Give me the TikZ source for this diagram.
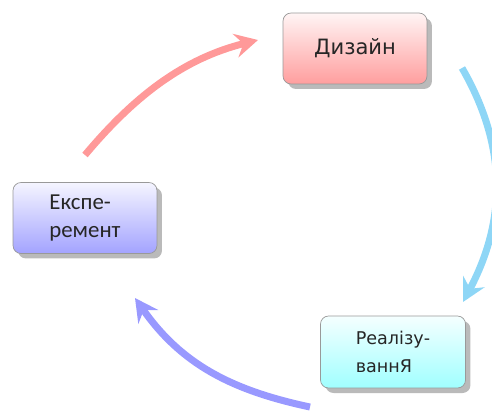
\documentclass[tikz,border=0pt]{standalone}
\usepackage{fontspec}
\newfontfamily\verdfont{DejaVu Sans}
\newfontfamily\carlfont{Carlito}
\usetikzlibrary{calc}
\usetikzlibrary{arrows.meta}
\usetikzlibrary{shadows}
\definecolor{pinkarr}{HTML}{FF9999}
\definecolor{bluearr}{HTML}{8ED6F6}
\definecolor{violarr}{HTML}{9999FF}

\begin{document}
\begin{tikzpicture} [x=0.02cm, y=0.02cm,
  box/.style={draw=black!40, rounded corners=0.16cm, minimum width=2.88cm, minimum height=1.42cm, text=black!85,
    drop shadow={shadow xshift=0.1cm, shadow yshift=-0.1cm, fill=black!45, opacity=0.6}},
  flow/.style={line width=0.14cm, -{Stealth[length=4.6mm, width=4.8mm, inset=1.6mm]}}]
\useasboundingbox (0,0) rectangle (492,410);

\node[box, top color=red!4, bottom color={rgb,255:red,255;green,158;blue,158}, font={\verdfont\fontsize{12}{14}\selectfont}] (dizain) at (355,361.5) {Дизайн};
\node[box, top color=blue!4, bottom color={rgb,255:red,163;green,163;blue,255}, align=left, font={\carlfont\fontsize{13}{15.5}\selectfont}] (eksp) at (85,192) {Експе-\\ремент};
\node[box, top color=cyan!4, bottom color={rgb,255:red,160;green,255;blue,255}, align=left, minimum width=2.9cm, minimum height=1.44cm, font={\verdfont\fontsize{10}{16}\selectfont}] (real) at (393,58) {Реалізу-\\ваннЯ};

\coordinate (p1) at (85,255);  \coordinate (p2) at (258,370);
\coordinate (b1) at (462,342); \coordinate (b2) at (463,108);
\coordinate (v1) at (310,3);   \coordinate (v2) at (135,112);

\draw[flow, pinkarr] (p1) to[out=50, in=194, looseness=0.95] (p2);
\draw[flow, bluearr] (b1) to[out=-60, in=62] (b2);
\draw[flow, violarr] (v1) to[out=168, in=-55] (v2);

\end{tikzpicture}
\end{document}
